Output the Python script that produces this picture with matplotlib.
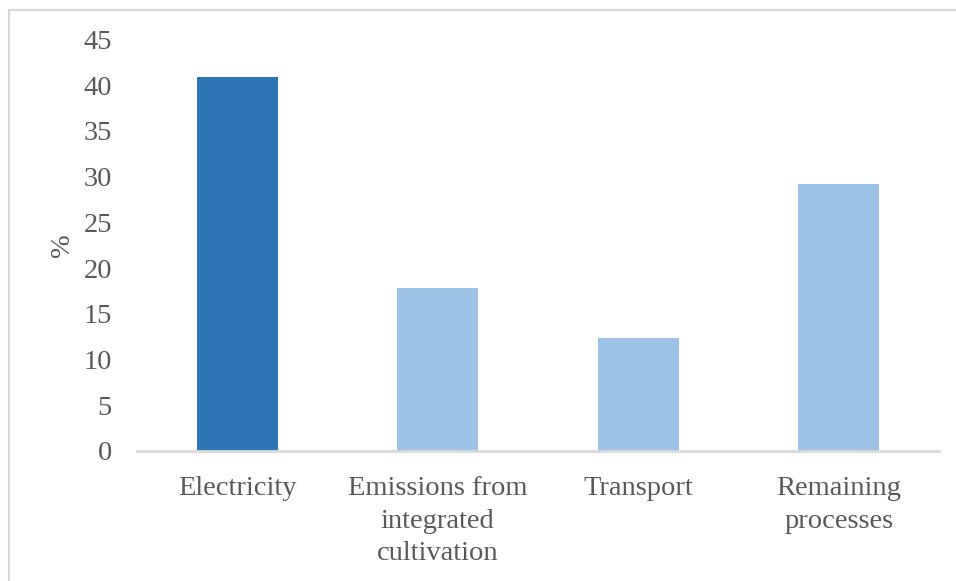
import matplotlib
matplotlib.use("Agg")
import matplotlib.pyplot as plt
from matplotlib.lines import Line2D

categories = ["Electricity", "Emissions from\nintegrated\ncultivation", "Transport", "Remaining\nprocesses"]
values = [40.9, 17.8, 12.4, 29.2]
bar_colors = ["#2E75B6", "#9DC3E6", "#9DC3E6", "#9DC3E6"]
yticks = [0, 5, 10, 15, 20, 25, 30, 35, 40, 45]

plt.rcParams['font.family'] = ['Liberation Serif', 'DejaVu Serif']
W, H = 956, 581
fig = plt.figure(figsize=(W / 100, H / 100), dpi=100)
ax = fig.add_axes([137 / W, (H - 451) / H, (939 - 137) / W, (451 - 39.5) / H])

x = list(range(len(categories)))
ax.bar(x, values, width=0.405, color=bar_colors, zorder=2)
ax.set_xlim(-0.5, len(categories) - 0.5)
ax.set_ylim(0, 45)
ax.set_yticks(yticks)
ax.set_yticklabels([str(t) for t in yticks])
ax.set_xticks(x)
ax.set_xticklabels(categories, linespacing=1.4)

text_color = "#595959"
for s in ["top", "right", "left"]:
    ax.spines[s].set_visible(False)
ax.spines["bottom"].set_color("#D9D9D9")
ax.spines["bottom"].set_linewidth(2)
ax.tick_params(axis="y", length=0, pad=18, labelsize=20.5, labelcolor=text_color)
ax.tick_params(axis="x", length=0, pad=18, labelsize=20.5, labelcolor=text_color)
ax.set_ylabel("%", fontsize=20.5, color=text_color, labelpad=6)

# light outer frame (left and top edges visible)
fig.add_artist(Line2D([8.5 / W, 8.5 / W], [0, (H - 10) / H], transform=fig.transFigure, color="#D9D9D9", lw=1.5))
fig.add_artist(Line2D([8.5 / W, 1], [(H - 10) / H, (H - 10) / H], transform=fig.transFigure, color="#D9D9D9", lw=1.5))

fig.savefig("out.png", dpi=100)
